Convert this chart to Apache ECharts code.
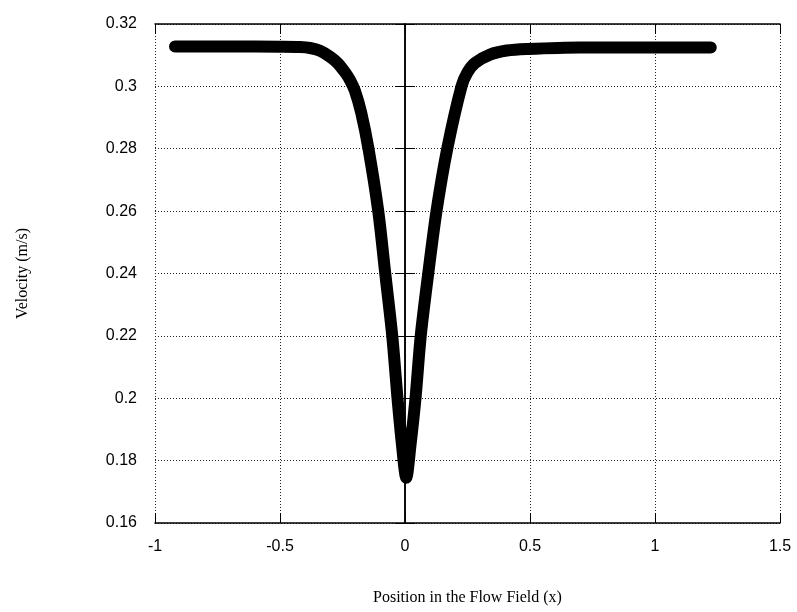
<!DOCTYPE html>
<html>
<head>
<meta charset="utf-8">
<script src="https://cdn.jsdelivr.net/npm/echarts@6/dist/echarts.min.js"></script>
<style>
  html, body { margin: 0; padding: 0; background: #fff; }
  #chart { width: 797px; height: 612px; }
</style>
</head>
<body>
<div id="chart"></div>
<script>
// values
var positions = [-0.92, -0.7, -0.5, -0.42, -0.38, -0.34, -0.3, -0.27, -0.24, -0.22, -0.2, -0.175, -0.146, -0.107, -0.079, -0.051, -0.03, -0.012, 0.005, 0.022, 0.042, 0.063, 0.093, 0.126, 0.169, 0.226, 0.25, 0.28, 0.34, 0.407, 0.487, 0.7, 1.0, 1.223];
var velocities = [0.3128, 0.3128, 0.3127, 0.3126, 0.3123, 0.3114, 0.3095, 0.3075, 0.3045, 0.302, 0.2985, 0.2915, 0.28, 0.26, 0.24, 0.22, 0.2, 0.185, 0.1745, 0.185, 0.2, 0.22, 0.24, 0.26, 0.28, 0.3, 0.3045, 0.3075, 0.3102, 0.3115, 0.312, 0.3125, 0.3125, 0.3125];
var xTicks = [-1, -0.5, 0, 0.5, 1, 1.5];
var yTicks = [0.16, 0.18, 0.2, 0.22, 0.24, 0.26, 0.28, 0.3, 0.32];

var pts = [];
for (var i = 0; i < positions.length; i++) {
  pts.push([positions[i], velocities[i]]);
}

var gridDots = { show: true, lineStyle: { color: '#222', type: [1, 2], width: 1 } };
var labelFont = { color: '#000', fontFamily: 'Liberation Sans', fontSize: 16 };

var chart = echarts.init(document.getElementById('chart'));
chart.setOption({
  animation: false,
  backgroundColor: '#fff',
  grid: { left: 155, right: 17, top: 24, bottom: 89 },
  xAxis: [{
    type: 'value',
    min: xTicks[0], max: xTicks[xTicks.length - 1], interval: 0.5,
    name: 'Position in the Flow Field (x)',
    nameLocation: 'middle', nameGap: 67,
    nameTextStyle: { color: '#000', fontFamily: 'Liberation Serif', fontSize: 16 },
    axisLine: { lineStyle: { color: '#000', width: 1.5 } },
    axisTick: { inside: true, length: 10, lineStyle: { color: '#000' } },
    axisLabel: Object.assign({ margin: 16 }, labelFont),
    splitLine: gridDots
  }, {
    type: 'value', position: 'top',
    min: xTicks[0], max: xTicks[xTicks.length - 1], interval: 0.5,
    axisLine: { lineStyle: { color: '#000', width: 1.5 } },
    axisTick: { inside: true, length: 10, lineStyle: { color: '#000' } },
    axisLabel: { show: false },
    splitLine: { show: false }
  }],
  yAxis: [{
    type: 'value',
    min: yTicks[0], max: yTicks[yTicks.length - 1], interval: 0.02,
    name: 'Velocity (m/s)',
    nameLocation: 'middle', nameGap: 124, nameRotate: 90,
    nameTextStyle: { color: '#000', fontFamily: 'Liberation Serif', fontSize: 16 },
    axisLine: { show: true, lineStyle: { color: '#000', width: 1.5 } },
    axisTick: { show: true, inside: true, length: 10, lineStyle: { color: '#000' } },
    axisLabel: Object.assign({ margin: 18, formatter: function (v) { return +v.toFixed(2) + ''; } }, labelFont),
    splitLine: gridDots
  }, {
    type: 'value', position: 'right',
    min: yTicks[0], max: yTicks[yTicks.length - 1], interval: 0.02,
    axisLine: { show: true, lineStyle: { color: '#000', width: 1.5 } },
    axisTick: { show: true, inside: true, length: 10, lineStyle: { color: '#000' } },
    axisLabel: { show: false },
    splitLine: { show: false }
  }],
  series: [{
    type: 'line',
    data: pts,
    smooth: 0.3,
    showSymbol: false,
    lineStyle: { color: '#000', width: 12, cap: 'round', join: 'round' },
    z: 5
  }]
});
</script>
</body>
</html>
